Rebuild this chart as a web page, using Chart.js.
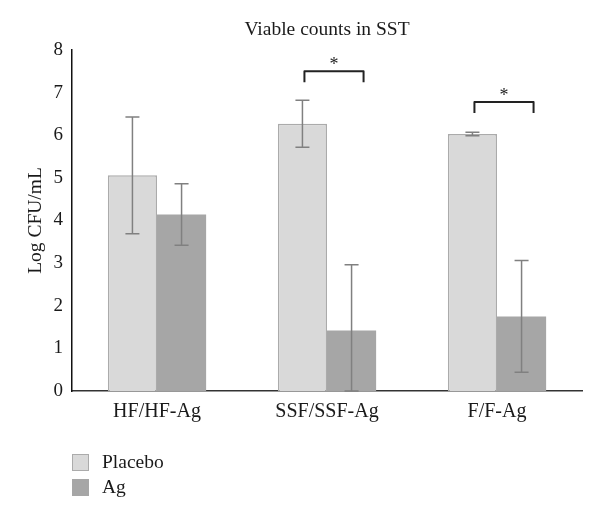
<!DOCTYPE html>
<html>
<head>
<meta charset="utf-8">
<script src="https://cdn.jsdelivr.net/npm/chart.js@4"></script>
<style>
  body { margin: 0; background: #fff; }
  canvas { display: block; }
</style>
</head>
<body>
<canvas id="chart" width="600" height="521"></canvas>
<script>
const groups = ["HF/HF-Ag", "SSF/SSF-Ag", "F/F-Ag"];
const placebo = [5.06, 6.27, 6.03];
const placeboErr = [1.37, 0.55, 0.04];
const ag = [4.14, 1.42, 1.75];
const agErr = [0.72, 1.54, 1.31];
// significance brackets (value of bracket top), null = none
const sigLevel = [null, 7.5, 6.78];
const yTicks = [0, 1, 2, 3, 4, 5, 6, 7, 8];

const serif = "'Liberation Serif', 'DejaVu Serif', serif";
const errors = [placeboErr, agErr];

const errorBars = {
    id: "errorBars",
    afterDatasetsDraw(chart) {
        const ctx = chart.ctx;
        const y = chart.scales.y;
        ctx.save();
        ctx.strokeStyle = "#808080";
        ctx.lineWidth = 1.5;
        chart.data.datasets.forEach((ds, i) => {
            const meta = chart.getDatasetMeta(i);
            meta.data.forEach((bar, j) => {
                const v = ds.data[j], e = errors[i][j];
                const top = y.getPixelForValue(v + e);
                const bot = y.getPixelForValue(Math.max(0, v - e));
                ctx.beginPath();
                ctx.moveTo(bar.x, top); ctx.lineTo(bar.x, bot);
                ctx.moveTo(bar.x - 7, top); ctx.lineTo(bar.x + 7, top);
                ctx.moveTo(bar.x - 7, bot); ctx.lineTo(bar.x + 7, bot);
                ctx.stroke();
            });
        });

        // brackets with asterisks
        const m0 = chart.getDatasetMeta(0), m1 = chart.getDatasetMeta(1);
        ctx.strokeStyle = "#222";
        ctx.lineWidth = 2;
        ctx.lineJoin = "round";
        ctx.fillStyle = "#222";
        ctx.font = "18px " + serif;
        ctx.textAlign = "center";
        ctx.textBaseline = "middle";
        sigLevel.forEach((lvl, j) => {
            if (lvl == null) return;
            const x1 = m0.data[j].x + 2, x2 = m1.data[j].x + 12;
            const yt = y.getPixelForValue(lvl);
            ctx.beginPath();
            ctx.moveTo(x1, yt + 11); ctx.lineTo(x1, yt);
            ctx.lineTo(x2, yt); ctx.lineTo(x2, yt + 11);
            ctx.stroke();
            ctx.fillText("*", (x1 + x2) / 2, yt - 6);
        });
        ctx.restore();
    }
};

const bottomLegend = {
    id: "bottomLegend",
    afterDraw(chart) {
        const ctx = chart.ctx;
        ctx.save();
        ctx.font = "19.5px " + serif;
        ctx.textBaseline = "middle";
        ctx.textAlign = "left";
        chart.data.datasets.forEach((ds, i) => {
            const top = 454 + i * 25;
            ctx.fillStyle = ds.backgroundColor;
            ctx.fillRect(72, top, 17, 17);
            ctx.strokeStyle = ds.borderColor;
            ctx.lineWidth = 1;
            ctx.strokeRect(72.5, top + 0.5, 16, 16);
            ctx.fillStyle = "#1a1a1a";
            ctx.fillText(ds.label, 102, top + 8.5);
        });
        ctx.restore();
    }
};

new Chart(document.getElementById("chart"), {
    type: "bar",
    data: {
        labels: groups,
        datasets: [
            {
                label: "Placebo",
                data: placebo,
                backgroundColor: "#d9d9d9",
                borderColor: "#ababab",
                borderWidth: 1.5
            },
            {
                label: "Ag",
                data: ag,
                backgroundColor: "#a6a6a6",
                borderColor: "#a6a6a6",
                borderWidth: 0
            }
        ]
    },
    options: {
        responsive: false,
        animation: false,
        layout: { padding: { top: 0, right: 18, bottom: 0, left: 0 } },
        datasets: { bar: { categoryPercentage: 0.578, barPercentage: 1 } },
        plugins: {
            legend: { display: false },
            tooltip: { enabled: false },
            title: {
                display: true,
                fullSize: false,
                text: "Viable counts in SST",
                color: "#1a1a1a",
                font: { family: serif, size: 19.5, weight: "normal" },
                padding: { top: 18, bottom: 8.6 }
            }
        },
        scales: {
            x: {
                grid: { display: false, drawTicks: false },
                border: { display: true, color: "#333", width: 1.5 },
                ticks: {
                    color: "#1a1a1a",
                    padding: 9,
                    font: { family: serif, size: 20 }
                },
                afterFit(scale) { scale.height = 130; }
            },
            y: {
                min: 0,
                max: 8,
                afterBuildTicks(scale) { scale.ticks = yTicks.map(v => ({ value: v })); },
                grid: { display: false, drawTicks: false },
                border: { display: true, color: "#111", width: 1.5 },
                ticks: {
                    color: "#1a1a1a",
                    padding: 9,
                    font: { family: serif, size: 19 }
                },
                title: {
                    display: true,
                    text: "Log CFU/mL",
                    color: "#1a1a1a",
                    font: { family: serif, size: 19.5 },
                    padding: { top: 24, bottom: 0 }
                },
                afterFit(scale) { scale.width = 72; }
            }
        }
    },
    plugins: [errorBars, bottomLegend]
});
</script>
</body>
</html>
